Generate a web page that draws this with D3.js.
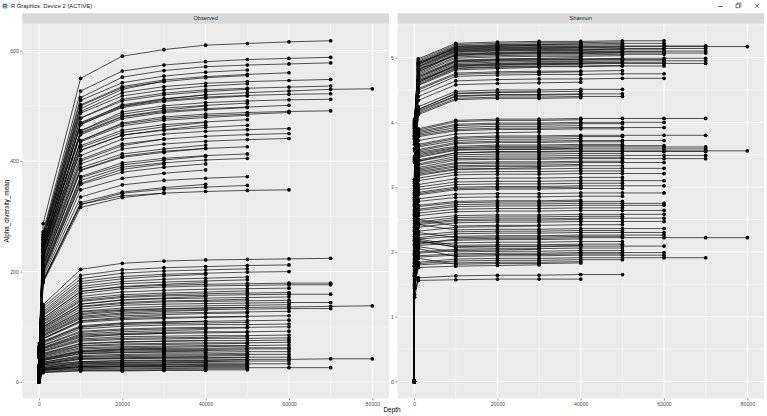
<!DOCTYPE html>
<html><head><meta charset="utf-8">
<script src="https://cdn.jsdelivr.net/npm/d3@7"></script>
<style>body{margin:0;background:#fff;} svg{display:block;font-family:"Liberation Sans",Arial,sans-serif;}</style>
</head><body><svg id="c" width="767" height="416"></svg>
<script>
// ---------- data ----------
const facetNames = ["Observed", "Shannon"];
const startDepth = 1;
const observedStart = 1;   // every sample at depth 1
const shannonStart = 0;
const depths = [100, 1000, 10000, 20000, 30000, 40000, 50000, 60000, 70000, 80000];
// samples ordered by deepest rarefaction depth (80k, 70k, 60k, 50k, 40k, 30k)
const obs_d100 = [58,24,14,
 70,66,64,62,60,59,57,55,32,28,27,26,25,24,12,
 63,56,55,52,51,50,44,31,30,28,27,26,26,25,23,22,21,20,20,19,18,17,17,16,16,15,15,14,14,13,12,11,
 64,62,61,60,58,57,56,55,54,53,50,49,48,46,45,31,30,29,27,26,24,23,22,21,20,19,18,16,16,15,14,13,13,12,11,10,10,9,8,7,
 59,57,54,53,50,50,48,47,46,45,30,29,26,24,21,19,17,14,13,11,9,7,
 61,51,47,43,22,18,15,10];
const obs_d1000 = [248,91,31,
 287,272,268,258,252,246,243,235,140,115,112,103,94,87,21,
 262,240,236,224,221,216,182,136,128,110,105,100,96,92,84,79,74,70,67,62,58,55,52,50,47,43,42,39,36,33,28,25,
 266,262,256,252,247,241,238,232,229,225,210,205,201,190,184,132,122,120,108,98,89,82,78,72,66,61,56,48,45,40,36,34,31,29,26,24,23,21,19,18,
 248,240,228,226,212,209,203,198,194,185,125,116,100,85,73,63,51,39,33,26,22,17,
 258,216,199,180,79,60,41,23];
const obs_d10000 = [468,127,37,
 550,527,515,490,478,466,455,437,204,164,160,146,132,122,24,
 502,450,437,410,403,395,322,193,182,155,148,141,136,128,117,110,102,96,92,85,78,74,70,66,62,57,55,51,46,42,35,31,
 510,500,487,478,467,455,448,435,428,419,384,372,365,335,321,187,173,169,151,137,124,115,108,99,90,83,76,65,60,54,48,45,41,37,34,30,28,26,23,21,
 470,452,425,420,388,383,370,358,348,325,178,164,141,119,100,87,69,52,43,33,27,20,
 495,400,360,316,111,81,56,28];
const obs_d20000 = [502,131,39,
 590,563,552,524,512,499,489,469,215,172,169,153,139,128,25,
 535,480,467,440,431,422,337,203,191,163,155,148,142,134,123,115,107,101,96,88,82,77,73,69,64,60,58,53,48,43,36,32,
 542,533,518,509,497,485,477,464,456,447,409,397,389,357,342,197,182,178,158,144,130,120,113,104,94,86,79,67,62,56,50,46,42,38,35,31,29,27,23,21,
 500,481,452,447,413,407,393,380,369,344,187,173,149,125,106,91,72,54,44,34,28,20,
 530,428,385,334,117,86,59,29];
const obs_d30000 = [513,133,40,
 602,574,564,535,523,510,500,480,219,175,172,156,141,130,25,
 547,490,477,449,440,431,342,207,195,166,158,151,145,137,125,117,109,103,98,90,83,78,74,70,65,61,59,54,49,44,37,32,
 554,544,529,520,508,496,488,474,466,456,418,405,397,365,349,201,186,181,161,147,132,122,115,106,96,88,80,68,63,57,51,47,43,39,35,31,29,27,24,22,
 512,492,462,457,422,416,402,389,378,352,192,177,152,128,108,93,74,55,45,34,28,21,
 545,440,395,342,120,88,60,30];
const obs_d40000 = [520,134,40,
 610,580,571,541,529,516,506,485,221,177,174,157,142,131,26,
 553,495,482,454,445,436,345,209,197,168,160,152,146,138,126,118,110,104,99,91,84,79,75,71,66,61,59,54,49,44,37,33,
 561,551,536,526,514,501,493,479,471,461,423,410,402,369,353,203,188,183,163,148,134,124,117,107,97,89,81,69,64,57,51,47,43,39,36,32,30,28,24,22,
 520,500,470,465,429,423,409,395,384,358,195,180,155,130,110,95,75,56,46,35,29,21];
const obs_d50000 = [524,135,41,
 613,584,574,544,532,519,509,488,222,178,175,158,143,132,26,
 557,498,485,457,448,439,347,211,199,169,161,153,147,139,127,119,111,104,99,91,84,79,75,71,66,62,60,55,50,45,38,33,
 565,555,540,530,518,505,497,483,475,465,426,413,405,372,356,205,190,185,165,150,135,125,118,108,98,90,82,70,65,58,52,48,44,40,36,32,30,28,24,22];
const obs_d60000 = [527,136,41,
 616,586,576,546,534,521,511,490,223,179,176,159,144,133,26,
 560,501,488,459,450,441,348,212,200,170,162,154,148,140,128,120,112,105,100,92,85,80,76,72,67,62,60,55,50,45,38,33];
const obs_d70000 = [530,137,42, 618,588,578,548,536,522,512,491,224,179,176,159,144,133,26];
const obs_d80000 = [531,138,42];

const sha_d100 = [3.98,2.78,1.78,
 4.01,3.95,3.92,3.90,3.84,3.80,3.78,3.12,2.95,2.82,2.80,2.74,2.72,2.66,1.52,
 4.05,4.02,3.94,3.91,3.88,3.82,3.79,3.74,3.66,3.60,3.08,3.02,2.88,2.84,2.62,2.56,2.48,2.40,2.34,2.28,2.16,2.12,2.06,2.02,1.98,1.94,1.86,1.82,1.79,1.66,1.58,1.55,
 4.03,3.99,3.97,3.93,3.90,3.86,3.83,3.79,3.75,3.70,3.48,3.42,3.40,3.08,3.02,2.92,2.88,2.84,2.74,2.70,2.64,2.58,2.52,2.44,2.38,2.32,2.24,2.18,2.10,2.00,1.90,1.84,1.78,1.72,1.68,1.64,1.62,1.58,1.50,1.34,
 4.00,3.96,3.85,3.76,3.68,3.56,3.46,3.42,3.38,3.12,3.06,2.90,2.80,2.60,2.34,2.20,1.96,1.74,1.66,1.48,1.46,1.30,
 3.99,3.73,3.45,2.98,2.56,1.88,1.62,1.44];
const sha_d1000 = [4.90,3.42,2.12,
 4.92,4.86,4.80,4.82,4.70,4.66,4.64,3.90,3.66,3.50,3.46,3.40,3.36,3.30,1.84,
 4.98,4.94,4.84,4.78,4.76,4.68,4.62,4.58,4.46,4.40,3.86,3.80,3.58,3.52,3.26,3.18,3.10,3.00,2.92,2.82,2.66,2.64,2.56,2.50,2.44,2.38,2.42,2.22,2.20,2.18,1.94,2.05,
 4.96,4.90,4.88,4.82,4.78,4.74,4.70,4.64,4.60,4.52,4.24,4.18,4.14,3.84,3.78,3.64,3.56,3.54,3.40,3.34,3.28,3.22,3.14,3.04,2.96,2.88,2.78,2.70,2.60,2.46,2.50,2.26,2.30,2.10,2.20,2.00,2.08,1.92,1.82,1.60,
 4.92,4.86,4.72,4.62,4.50,4.34,4.20,4.16,4.12,3.88,3.82,3.62,3.48,3.24,2.90,2.72,2.42,2.14,2.16,1.80,1.90,1.56,
 4.90,4.57,4.20,3.72,3.20,2.32,1.98,1.76];
const sha_d10000 = [5.13,3.53,2.20,
 5.14,5.10,5.06,5.03,4.95,4.91,4.87,4.03,3.77,3.60,3.57,3.53,3.47,3.42,1.89,
 5.22,5.18,5.09,5.05,5.01,4.93,4.88,4.83,4.71,4.64,3.97,3.89,3.69,3.61,3.36,3.27,3.19,3.08,3.00,2.89,2.73,2.70,2.62,2.56,2.50,2.45,2.34,2.28,2.24,2.07,1.97,1.93,
 5.20,5.16,5.12,5.08,5.04,4.99,4.94,4.89,4.84,4.76,4.48,4.41,4.37,3.95,3.87,3.75,3.67,3.63,3.50,3.44,3.38,3.31,3.23,3.13,3.04,2.96,2.84,2.76,2.66,2.53,2.40,2.31,2.22,2.14,2.10,2.04,2.00,1.95,1.86,1.63,
 5.17,5.11,4.96,4.86,4.74,4.58,4.45,4.40,4.35,4.01,3.92,3.72,3.58,3.33,2.98,2.78,2.48,2.18,2.08,1.83,1.81,1.57,
 5.15,4.81,4.44,3.82,3.28,2.38,2.02,1.78];
const sha_d20000 = [5.15,3.55,2.21,
 5.16,5.12,5.08,5.05,4.97,4.93,4.89,4.05,3.79,3.61,3.58,3.54,3.48,3.43,1.90,
 5.24,5.20,5.11,5.07,5.03,4.95,4.90,4.85,4.73,4.66,3.99,3.91,3.71,3.63,3.37,3.28,3.20,3.09,3.01,2.90,2.74,2.71,2.63,2.57,2.51,2.46,2.35,2.29,2.25,2.08,1.98,1.94,
 5.22,5.18,5.14,5.10,5.06,5.01,4.96,4.91,4.86,4.78,4.50,4.43,4.39,3.97,3.89,3.77,3.69,3.65,3.51,3.45,3.39,3.32,3.24,3.14,3.05,2.97,2.85,2.77,2.67,2.54,2.41,2.32,2.23,2.15,2.11,2.05,2.01,1.96,1.87,1.64,
 5.19,5.13,4.98,4.88,4.76,4.60,4.47,4.42,4.37,4.03,3.94,3.74,3.59,3.34,2.99,2.79,2.49,2.19,2.09,1.84,1.82,1.58,
 5.17,4.83,4.46,3.84,3.29,2.39,2.03,1.79];
const sha_d30000 = [5.16,3.55,2.21,
 5.17,5.13,5.09,5.06,4.98,4.94,4.90,4.05,3.79,3.61,3.58,3.54,3.48,3.43,1.90,
 5.25,5.21,5.12,5.08,5.04,4.96,4.91,4.86,4.74,4.67,3.99,3.91,3.71,3.63,3.37,3.28,3.20,3.09,3.01,2.90,2.74,2.71,2.63,2.57,2.51,2.46,2.35,2.29,2.25,2.08,1.98,1.94,
 5.23,5.19,5.15,5.11,5.07,5.02,4.97,4.92,4.87,4.79,4.50,4.43,4.39,3.97,3.89,3.77,3.69,3.65,3.51,3.45,3.39,3.32,3.24,3.14,3.05,2.97,2.85,2.77,2.67,2.54,2.41,2.32,2.23,2.15,2.11,2.05,2.01,1.96,1.87,1.64,
 5.20,5.14,4.99,4.89,4.77,4.61,4.47,4.42,4.37,4.03,3.94,3.74,3.59,3.34,2.99,2.79,2.49,2.19,2.09,1.84,1.82,1.58,
 5.19,4.85,4.47,3.85,3.30,2.40,2.04,1.80];
const sha_d40000 = [5.16,3.56,2.22,
 5.17,5.13,5.09,5.06,4.98,4.94,4.90,4.06,3.80,3.62,3.59,3.55,3.49,3.44,1.91,
 5.25,5.21,5.12,5.08,5.04,4.96,4.91,4.86,4.74,4.67,4.00,3.92,3.72,3.64,3.38,3.29,3.21,3.10,3.02,2.91,2.75,2.72,2.64,2.58,2.52,2.47,2.36,2.30,2.26,2.09,1.99,1.95,
 5.23,5.19,5.15,5.11,5.07,5.02,4.97,4.92,4.87,4.79,4.51,4.44,4.40,3.98,3.90,3.78,3.70,3.66,3.52,3.46,3.40,3.33,3.25,3.15,3.06,2.98,2.86,2.78,2.68,2.55,2.42,2.33,2.24,2.16,2.12,2.06,2.02,1.97,1.88,1.65,
 5.21,5.15,5.00,4.90,4.78,4.62,4.48,4.43,4.38,4.04,3.95,3.75,3.60,3.35,3.00,2.80,2.50,2.20,2.10,1.85,1.83,1.58];
const sha_d50000 = [5.17,3.56,2.22,
 5.18,5.14,5.10,5.07,4.99,4.95,4.91,4.06,3.80,3.62,3.59,3.55,3.49,3.44,1.91,
 5.26,5.22,5.13,5.09,5.05,4.97,4.92,4.87,4.75,4.68,4.00,3.92,3.72,3.64,3.38,3.29,3.21,3.10,3.02,2.91,2.75,2.72,2.64,2.58,2.52,2.47,2.36,2.30,2.26,2.09,1.99,1.95,
 5.24,5.20,5.16,5.12,5.08,5.03,4.98,4.93,4.88,4.80,4.51,4.44,4.40,3.98,3.90,3.78,3.70,3.66,3.52,3.46,3.40,3.33,3.25,3.15,3.06,2.98,2.86,2.78,2.68,2.55,2.42,2.33,2.24,2.16,2.12,2.06,2.02,1.97,1.88,1.65];
const sha_d60000 = [5.17,3.56,2.22,
 5.18,5.14,5.10,5.07,4.99,4.95,4.91,4.06,3.80,3.62,3.59,3.55,3.49,3.44,1.91,
 5.26,5.22,5.13,5.09,5.05,4.97,4.92,4.87,4.75,4.68,4.00,3.92,3.72,3.64,3.38,3.29,3.21,3.10,3.02,2.91,2.75,2.72,2.64,2.58,2.52,2.47,2.36,2.30,2.26,2.09,1.99,1.95];
const sha_d70000 = [5.17,3.56,2.22, 5.18,5.14,5.10,5.07,4.99,4.95,4.91,4.06,3.80,3.62,3.59,3.55,3.49,3.44,1.91];
const sha_d80000 = [5.17,3.56,2.22];

const xTicks = [0, 20000, 40000, 60000, 80000];
const observedTicks = [0, 200, 400, 600];
const shannonTicks = [0, 1, 2, 3, 4, 5];
const xTitle = "Depth";
const yTitle = "Alpha_diversity_mean";
const windowTitle = "R Graphics: Device 2 (ACTIVE)";

// ---------- build ----------
const obsCols = [obs_d100, obs_d1000, obs_d10000, obs_d20000, obs_d30000, obs_d40000, obs_d50000, obs_d60000, obs_d70000, obs_d80000];
const shaCols = [sha_d100, sha_d1000, sha_d10000, sha_d20000, sha_d30000, sha_d40000, sha_d50000, sha_d60000, sha_d70000, sha_d80000];
function buildSeries(start, cols) {
  const n = cols[0].length, out = [];
  for (let i = 0; i < n; i++) {
    const pts = [[startDepth, start]];
    cols.forEach((col, j) => { if (i < col.length) pts.push([depths[j], col[i]]); });
    out.push(pts);
  }
  return out;
}
function expand(ext) { const r = ext[1] - ext[0]; return [ext[0] - 0.05 * r, ext[1] + 0.05 * r]; }
function minorsOf(ticks, dom) {
  const step = ticks[1] - ticks[0], out = [];
  for (let v = ticks[0] - step / 2; v <= dom[1]; v += step) if (v >= dom[0]) out.push(v);
  return out;
}

const svg = d3.select("#c");
const W = 767, H = 416;
svg.append("rect").attr("width", W).attr("height", H).attr("fill", "#fff");

// window title bar
svg.append("circle").attr("cx", 5).attr("cy", 6).attr("r", 3.2).attr("fill", "#c9d3e0");
svg.append("text").attr("x", 5).attr("y", 8.2).attr("text-anchor", "middle").attr("font-size", 6).attr("font-weight", "bold").attr("fill", "#2a5fa8").text("R");
svg.append("text").attr("x", 11).attr("y", 8.3).attr("font-size", 5.8).attr("fill", "#222").text(windowTitle);
svg.append("line").attr("x1", 718).attr("x2", 723).attr("y1", 6.5).attr("y2", 6.5).attr("stroke", "#333").attr("stroke-width", 0.7);
svg.append("rect").attr("x", 736).attr("y", 4.2).attr("width", 3.6).attr("height", 3.6).attr("fill", "none").attr("stroke", "#333").attr("stroke-width", 0.6);
svg.append("path").attr("d", "M737.2,4.2 V3 H740.9 V6.7 H739.6").attr("fill", "none").attr("stroke", "#333").attr("stroke-width", 0.6);
svg.append("path").attr("d", "M755,3.8 L759,7.8 M759,3.8 L755,7.8").attr("stroke", "#333").attr("stroke-width", 0.7);

const panelTop = 23.7, panelBottom = 398.5, stripTop = 13.2;
const panels = [
  { name: facetNames[0], x0: 22.3, x1: 389, series: buildSeries(observedStart, obsCols), ticks: observedTicks },
  { name: facetNames[1], x0: 397.5, x1: 764, series: buildSeries(shannonStart, shaCols), ticks: shannonTicks }
];

panels.forEach(p => {
  const xDom = expand([startDepth, depths[depths.length - 1]]);
  const x = d3.scaleLinear().domain(xDom).range([p.x0, p.x1]);
  const yDom = expand(d3.extent(p.series.flat(), d => d[1]));
  const y = d3.scaleLinear().domain(yDom).range([panelBottom, panelTop]);
  const g = svg.append("g");
  g.append("rect").attr("x", p.x0).attr("y", panelTop).attr("width", p.x1 - p.x0).attr("height", panelBottom - panelTop).attr("fill", "#EBEBEB");
  // minor grid
  minorsOf(xTicks, xDom).forEach(v => g.append("line").attr("x1", x(v)).attr("x2", x(v)).attr("y1", panelTop).attr("y2", panelBottom).attr("stroke", "#fff").attr("stroke-width", 0.45));
  minorsOf(p.ticks, yDom).forEach(v => g.append("line").attr("x1", p.x0).attr("x2", p.x1).attr("y1", y(v)).attr("y2", y(v)).attr("stroke", "#fff").attr("stroke-width", 0.45));
  // major grid
  xTicks.forEach(v => g.append("line").attr("x1", x(v)).attr("x2", x(v)).attr("y1", panelTop).attr("y2", panelBottom).attr("stroke", "#fff").attr("stroke-width", 0.9));
  p.ticks.forEach(v => g.append("line").attr("x1", p.x0).attr("x2", p.x1).attr("y1", y(v)).attr("y2", y(v)).attr("stroke", "#fff").attr("stroke-width", 0.9));
  // strip
  g.append("rect").attr("x", p.x0).attr("y", stripTop).attr("width", p.x1 - p.x0).attr("height", panelTop - stripTop).attr("fill", "#D9D9D9");
  g.append("text").attr("x", (p.x0 + p.x1) / 2).attr("y", (stripTop + panelTop) / 2 + 2).attr("text-anchor", "middle").attr("font-size", 5.6).attr("fill", "#1A1A1A").text(p.name);
  // lines
  const line = d3.line().x(d => x(d[0])).y(d => y(d[1]));
  g.append("g").selectAll("path").data(p.series).join("path")
    .attr("d", line).attr("fill", "none").attr("stroke", "#000").attr("stroke-width", 0.7).attr("stroke-opacity", 0.95);
  // points
  g.append("g").selectAll("circle").data(p.series.flat()).join("circle")
    .attr("cx", d => x(d[0])).attr("cy", d => y(d[1])).attr("r", 1.85).attr("fill", "#000");
  // axes
  const ax = g.append("g").attr("transform", `translate(0,${panelBottom})`)
    .call(d3.axisBottom(x).tickValues(xTicks).tickSize(2).tickPadding(1.5).tickFormat(d3.format("d")));
  const ay = g.append("g").attr("transform", `translate(${p.x0},0)`)
    .call(d3.axisLeft(y).tickValues(p.ticks).tickSize(2).tickPadding(1.5).tickFormat(d3.format("d")));
  [ax, ay].forEach(a => {
    a.select(".domain").remove();
    a.selectAll("line").attr("stroke", "#333").attr("stroke-width", 0.5);
    a.selectAll("text").attr("font-size", 5.2).attr("fill", "#4D4D4D").attr("font-family", "Liberation Sans, Arial, sans-serif");
  });
});

svg.append("text").attr("x", 392).attr("y", 411.5).attr("text-anchor", "middle").attr("font-size", 6.4).attr("fill", "#000").text(xTitle);
svg.append("text").attr("transform", `translate(8.5,${(panelTop + panelBottom) / 2}) rotate(-90)`).attr("text-anchor", "middle").attr("font-size", 6.4).attr("fill", "#000").text(yTitle);
</script>
</body></html>
